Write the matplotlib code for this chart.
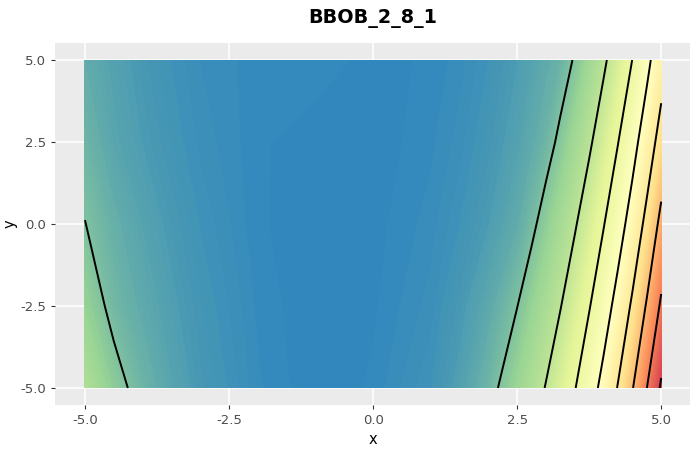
import numpy as np
import matplotlib
matplotlib.use('Agg')
import matplotlib.pyplot as plt
from matplotlib.colors import LinearSegmentedColormap

# grid (z in units of the contour spacing)
x_vals = [-5.0, -4.5, -4.0, -3.5, -3.0, -2.0, -1.0, 0.0, 1.0, 1.5,
          2.0, 2.5, 2.75, 3.0, 3.25, 3.5, 3.75, 4.0, 4.25, 4.5, 4.75, 5.0]
y_vals = [-5.0, -2.5, 0.0, 2.5, 5.0]

z_bottom = [1.75, 1.20, 0.79, 0.50, 0.30, 0.09, 0.00, 0.05, 0.20, 0.42,
            0.80, 1.40, 1.71, 2.03, 2.50, 2.96, 3.59, 4.27, 5.05, 5.95, 6.99, 8.12]
z_low = [1.33, 0.85, 0.60, 0.40, 0.25, 0.07, 0.00, 0.03, 0.14, 0.30,
         0.57, 0.99, 1.32, 1.645, 1.97, 2.455, 2.95, 3.59, 4.31, 5.13, 6.08, 7.13]
z_mid = [1.01, 0.70, 0.48, 0.32, 0.20, 0.05, 0.00, 0.02, 0.10, 0.20,
         0.36, 0.62, 0.88, 1.225, 1.58, 1.93, 2.43, 2.96, 3.62, 4.37, 5.24, 6.24]
z_high = [0.80, 0.52, 0.36, 0.24, 0.15, 0.05, 0.01, 0.01, 0.07, 0.14,
          0.26, 0.45, 0.60, 0.79, 1.12, 1.50, 1.89, 2.41, 2.98, 3.69, 4.48, 5.36]
z_top = [0.65, 0.45, 0.30, 0.20, 0.12, 0.06, 0.07, 0.02, 0.05, 0.10,
         0.20, 0.36, 0.47, 0.60, 0.74, 1.05, 1.47, 1.88, 2.41, 3.01, 3.77, 4.60]

contour_levels = [1, 2, 3, 4, 5, 6, 7, 8]
tick_vals = [-5.0, -2.5, 0.0, 2.5, 5.0]
tick_labels = ["-5.0", "-2.5", "0.0", "2.5", "5.0"]

spectral = ['#3288bd', '#99d594', '#e6f598', '#ffffbf', '#fee08b', '#fc8d59', '#d53e4f']
cmap = LinearSegmentedColormap.from_list('spec', spectral)

z = np.array([z_bottom, z_low, z_mid, z_high, z_top])

fig = plt.figure(figsize=(7, 4.5), dpi=100)
ax = fig.add_axes([55/700, 45/450, 635/700, 362/450])
ax.set_facecolor('#ebebeb')
ax.grid(color='white', linewidth=1.1)
ax.set_axisbelow(True)
for s in ax.spines.values():
    s.set_visible(False)

ax.contourf(x_vals, y_vals, z, levels=np.linspace(z.min(), z.max(), 200),
            cmap=cmap, antialiased=False)
ax.contour(x_vals, y_vals, z, levels=contour_levels, colors='black', linewidths=1.4)

ax.set_xlim(-5.52, 5.5)
ax.set_ylim(-5.52, 5.52)
ax.set_xticks(tick_vals)
ax.set_xticklabels(tick_labels)
ax.set_yticks(tick_vals)
ax.set_yticklabels(tick_labels)
ax.tick_params(colors='#333333', labelcolor='#4d4d4d', labelsize=9.5, length=3, width=0.8)

fig.text(372.5/700, 1 - 18/450, 'BBOB_2_8_1', ha='center', va='center',
         fontsize=13.8, fontweight='bold', color='black')
fig.text(372.5/700, 1 - 440/450, 'x', ha='center', va='center', fontsize=10.5, color='black')
fig.text(10/700, 1 - 224/450, 'y', ha='center', va='center', fontsize=10.5,
         rotation=90, color='black')

fig.savefig('out.png', dpi=100)
